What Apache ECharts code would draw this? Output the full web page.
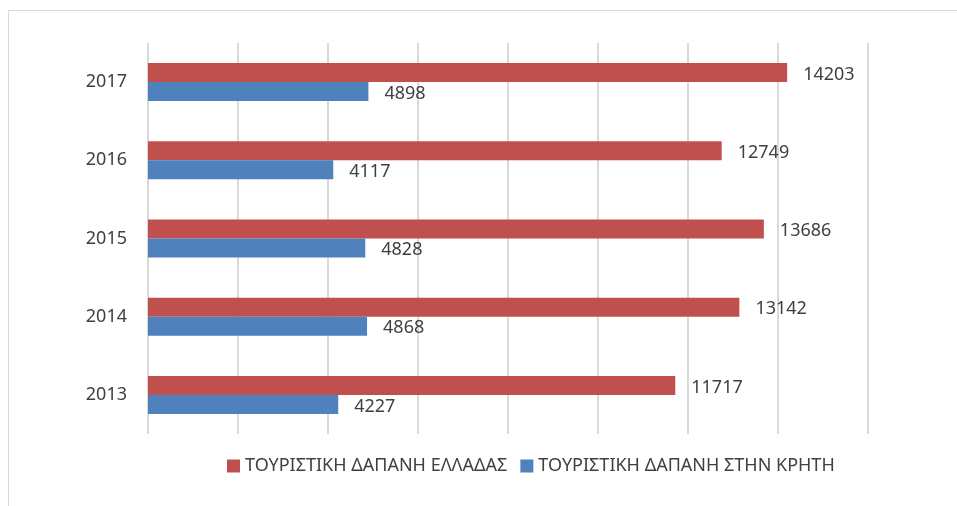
<!DOCTYPE html>
<html>
<head>
<meta charset="utf-8">
<script src="https://cdn.jsdelivr.net/npm/echarts@6/dist/echarts.min.js"></script>
<style>
  html, body { margin: 0; padding: 0; background: #fff; }
  #chart { width: 957px; height: 506px; }
</style>
</head>
<body>
<div id="chart"></div>
<script>
// 数据
const years = ['2013', '2014', '2015', '2016', '2017'];
const greece = [11717, 13142, 13686, 12749, 14203];
const crete = [4227, 4868, 4828, 4117, 4898];
const nameGreece = 'ΤΟΥΡΙΣΤΙΚΗ ΔΑΠΑΝΗ ΕΛΛΑΔΑΣ';
const nameCrete = 'ΤΟΥΡΙΣΤΙΚΗ ΔΑΠΑΝΗ ΣΤΗΝ ΚΡΗΤΗ';

const fontName = 'Noto Sans';
const labelStyle = {
  show: true,
  position: 'right',
  distance: 16,
  offset: [0, 2],
  color: '#404040',
  fontSize: 18,
  fontFamily: fontName
};

let chartConfig = {
  animation: false,
  color: ['#C0504D', '#4F81BD'],
  graphic: [{
    type: 'rect',
    shape: { x: 8.5, y: 10.5, width: 1000, height: 600 },
    style: { fill: 'none', stroke: '#D9D9D9', lineWidth: 1 },
    silent: true
  }],
  legend: {
    data: [nameGreece, nameCrete],
    bottom: 26,
    left: 222,
    itemWidth: 13,
    itemHeight: 13,
    itemGap: 13,
    icon: 'rect',
    textStyle: { color: '#404040', fontSize: 18, fontFamily: fontName }
  },
  grid: {
    left: 148,
    right: 89,
    top: 43,
    bottom: 72,
    containLabel: false
  },
  xAxis: {
    type: 'value',
    min: 0,
    max: 16000,
    interval: 2000,
    axisLabel: { show: false },
    axisLine: { show: false },
    axisTick: { show: false },
    splitLine: { lineStyle: { color: '#D9D9D9', width: 2 } }
  },
  yAxis: {
    type: 'category',
    data: years,
    axisLine: { show: false },
    axisTick: { show: false },
    axisLabel: { color: '#404040', fontSize: 18, fontFamily: fontName, margin: 21 }
  },
  series: [
    {
      name: nameGreece,
      type: 'bar',
      data: greece,
      barWidth: 19,
      barGap: '0%',
      label: labelStyle
    },
    {
      name: nameCrete,
      type: 'bar',
      data: crete,
      barWidth: 19,
      barGap: '0%',
      label: labelStyle
    }
  ]
};

let chart = echarts.init(document.getElementById('chart'));
chart.setOption(chartConfig);
window.addEventListener('resize', function () {
  chart.resize();
});
</script>
</body>
</html>
